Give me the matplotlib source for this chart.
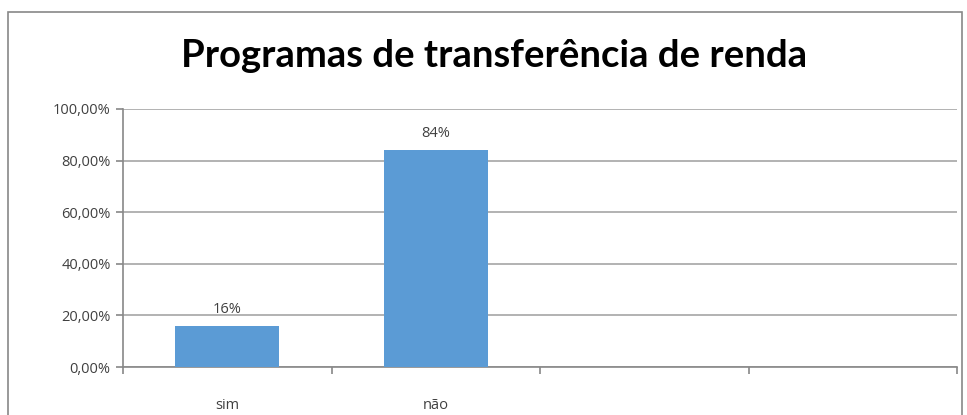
import numpy as np
import matplotlib.pyplot as plt
from matplotlib.patches import Rectangle
from matplotlib.ticker import FuncFormatter

categorias = ['sim', 'não']
valores = [0.16, 0.84]
rotulos = ['16%', '84%']
n_slots = 4  # o grafico original tem 4 posicoes de categoria
titulo = 'Programas de transferência de renda'

plt.rcParams['font.family'] = ['Open Sans', 'DejaVu Sans']

fig = plt.figure(figsize=(9.67, 4.15), dpi=100)
ax = fig.add_axes([123/967, 48/415, 834/967, 258/415])

x = np.arange(len(categorias))
ax.bar(x, valores, width=0.5, color='#5B9BD5', zorder=3)
for xi, v, r in zip(x, valores, rotulos):
    ax.text(xi, v + 0.035, r, ha='center', va='bottom', fontsize=10.5, color='#404040')

ax.set_xlim(-0.5, n_slots - 0.5)
ax.set_ylim(0, 1)
ax.set_yticks(np.arange(0, 1.01, 0.2))
ax.yaxis.set_major_formatter(FuncFormatter(lambda v, p: f'{v*100:.2f}%'.replace('.', ',')))
ax.grid(axis='y', color='#A6A6A6', linewidth=1.2, zorder=0)

# ticks nas fronteiras das categorias, rotulos no centro
ax.set_xticks(np.arange(-0.5, n_slots, 1.0))
ax.set_xticklabels([])
ax.set_xticks(x, minor=True)
ax.set_xticklabels(categorias, minor=True)
ax.tick_params(axis='x', which='minor', length=0, pad=22, labelsize=10.5, labelcolor='#404040')
ax.tick_params(axis='x', which='major', length=5, color='#888888', width=1.2)
ax.tick_params(axis='y', length=5, color='#888888', width=1.2, labelsize=10.5, labelcolor='#404040', pad=4)

for s in ['top', 'right']:
    ax.spines[s].set_visible(False)
for s in ['left', 'bottom']:
    ax.spines[s].set_color('#888888')
    ax.spines[s].set_linewidth(1.2)

fig.text(494/967, 0.865, titulo, ha='center', va='center', fontsize=27.5, fontweight='bold',
         family=['Lato', 'DejaVu Sans'], color='black')

fig.patches.append(Rectangle((8/967, -0.05), 954/967, 1.05 - 12/415, transform=fig.transFigure,
                             fill=False, edgecolor='#888888', linewidth=1.2))

fig.savefig('out.png', dpi=100)
